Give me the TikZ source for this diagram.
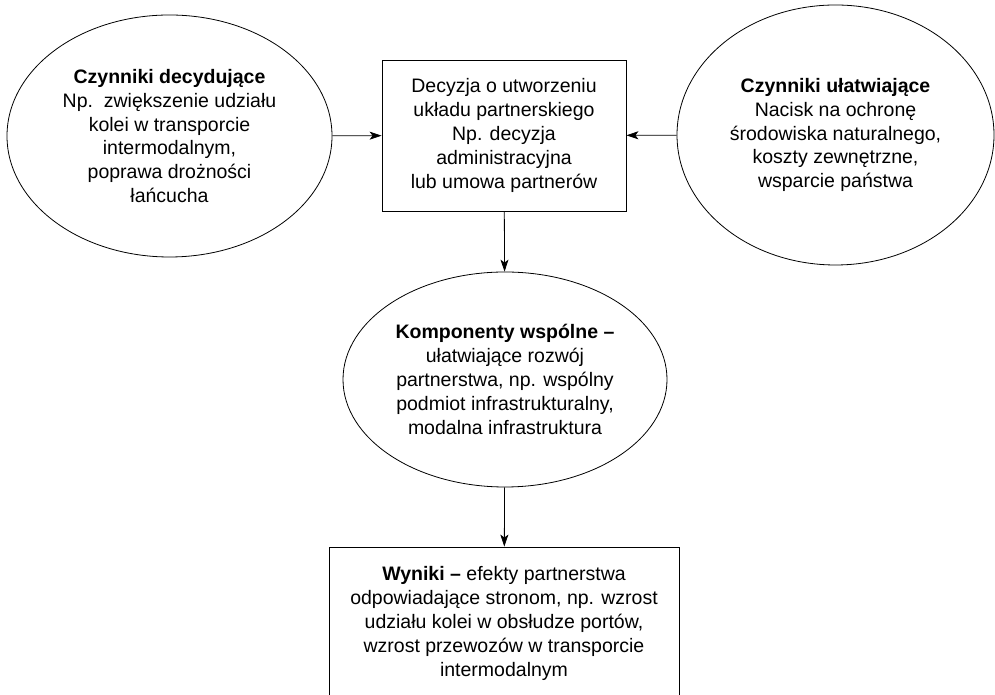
\documentclass[tikz,border=0pt]{standalone}
\usepackage{fontspec}
\setmainfont{Liberation Sans}
\usetikzlibrary{shapes.geometric,arrows.meta}

\begin{document}
\begin{tikzpicture}[x=1pt, y=1pt,
    every node/.style={font=\fontsize{19.5}{23.8}\selectfont, align=center, inner sep=0pt},
    oval/.style={ellipse, draw, line width=0.8pt},
    pole/.style={rectangle, draw, line width=0.8pt},
    strzalka/.style={line width=0.8pt, -{Stealth[length=12pt, width=8pt, inset=3pt]}}]
    \useasboundingbox (0, 0) rectangle (995, 695);

    \node[oval, minimum width=325, minimum height=242] (czynnikiD) at (169.5, 559)
        {\textbf{Czynniki decydujące}\\Np.\ \ zwiększenie udziału\\kolei w transporcie\\intermodalnym,\\poprawa drożności\\łańcucha};
    \node[pole, minimum width=244, minimum height=151] (decyzja) at (504, 559.5)
        {Decyzja o utworzeniu\\układu partnerskiego\\Np. decyzja\\administracyjna\\lub umowa partnerów};
    \node[oval, minimum width=317, minimum height=260] (czynnikiU) at (835.5, 560)
        {\textbf{Czynniki ułatwiające}\\Nacisk na ochronę\\środowiska naturalnego,\\koszty zewnętrzne,\\wsparcie państwa};
    \node[oval, minimum width=324, minimum height=215] (komponenty) at (505, 315.5)
        {\textbf{Komponenty wspólne –}\\ułatwiające rozwój\\partnerstwa, np. wspólny\\podmiot infrastrukturalny,\\modalna infrastruktura};
    \node[pole, minimum width=350, minimum height=153] (wyniki) at (504, 71.5)
        {\textbf{Wyniki –} efekty partnerstwa\\odpowiadające stronom, np. wzrost\\udziału kolei w obsłudze portów,\\wzrost przewozów w transporcie\\intermodalnym};

    % strzałki
    \draw[strzalka] (czynnikiD) -- (decyzja);
    \draw[strzalka] (czynnikiU) -- (decyzja);
    \draw[strzalka] (decyzja) -- (komponenty);
    \draw[strzalka] (komponenty) -- (wyniki);
\end{tikzpicture}
\end{document}
